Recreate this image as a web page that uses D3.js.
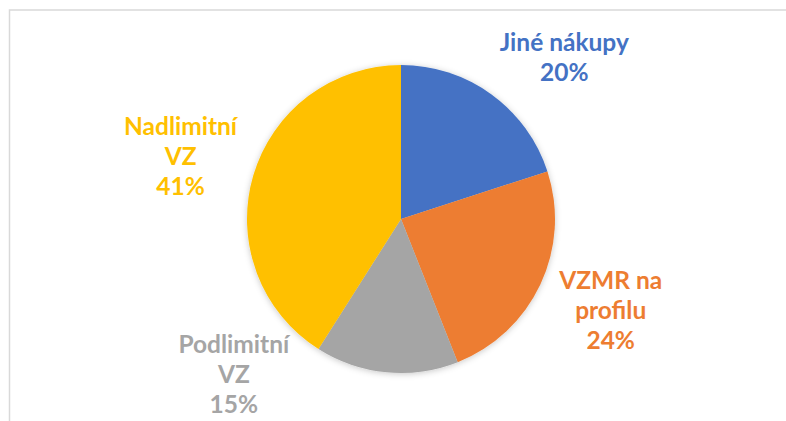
<!DOCTYPE html>
<html>
<head>
<meta charset="utf-8">
<script src="https://cdn.jsdelivr.net/npm/d3@7"></script>
<style>
  body { margin: 0; background: #fff; }
  text { font-family: Lato, "Open Sans", sans-serif; font-weight: bold; }
</style>
</head>
<body>
<div id="chart"></div>
<script>
// data
var categories = ["Jiné nákupy", "VZMR na profilu", "Podlimitní VZ", "Nadlimitní VZ"];
var values = [20, 24, 15, 41];
var labelLines = [["Jiné nákupy"], ["VZMR na", "profilu"], ["Podlimitní", "VZ"], ["Nadlimitní", "VZ"]];
var colors = ["#4472C4", "#ED7D31", "#A5A5A5", "#FFC000"];

var width = 786, height = 421;
var cx = 401, cy = 219, radius = 154;
var labelRadius = 229;
// excel moved some labels away from the slice middle
var labelNudge = [9.5, -1.5, 41.5, -0.5]; // degrees
var lineHeight = 30;

var svg = d3.select("#chart")
  .append("svg")
  .attr("width", width)
  .attr("height", height);

var defs = svg.append("defs");
var filter = defs.append("filter").attr("id", "shadow")
  .attr("x", "-20%").attr("y", "-20%").attr("width", "140%").attr("height", "140%");
filter.append("feDropShadow")
  .attr("dx", 0).attr("dy", 1)
  .attr("stdDeviation", 3)
  .attr("flood-color", "#000")
  .attr("flood-opacity", 0.22);

// chart frame (cut off at right and bottom)
svg.append("rect")
  .attr("x", 9.5).attr("y", 10)
  .attr("width", 1000).attr("height", 1000)
  .attr("fill", "none")
  .attr("stroke", "#d9d9d9")
  .attr("stroke-width", 1.5);

var pie = d3.pie().sort(null).value(function(d) { return d; });
var arcs = pie(values);
var arc = d3.arc().innerRadius(0).outerRadius(radius);

var g = svg.append("g").attr("transform", "translate(" + cx + "," + cy + ")");

g.append("g")
  .attr("filter", "url(#shadow)")
  .selectAll("path")
  .data(arcs)
  .enter()
  .append("path")
    .attr("d", arc)
    .attr("fill", function(d, i) { return colors[i]; });

var labels = g.selectAll("text.label")
  .data(arcs)
  .enter()
  .append("text")
    .attr("class", "label")
    .attr("text-anchor", "middle")
    .attr("font-size", 24.5)
    .attr("fill", function(d, i) { return colors[i]; })
    .each(function(d, i) {
      var a = (d.startAngle + d.endAngle) / 2 + labelNudge[i] * Math.PI / 180;
      var x = labelRadius * Math.sin(a);
      var y = -labelRadius * Math.cos(a);
      var lines = labelLines[i].concat([Math.round(d.value / d3.sum(values) * 100) + "%"]);
      var t = d3.select(this);
      lines.forEach(function(line, j) {
        t.append("tspan")
          .attr("x", x)
          .attr("y", y + (j - (lines.length - 1) / 2) * lineHeight + 7.5)
          .text(line);
      });
    });
</script>
</body>
</html>
